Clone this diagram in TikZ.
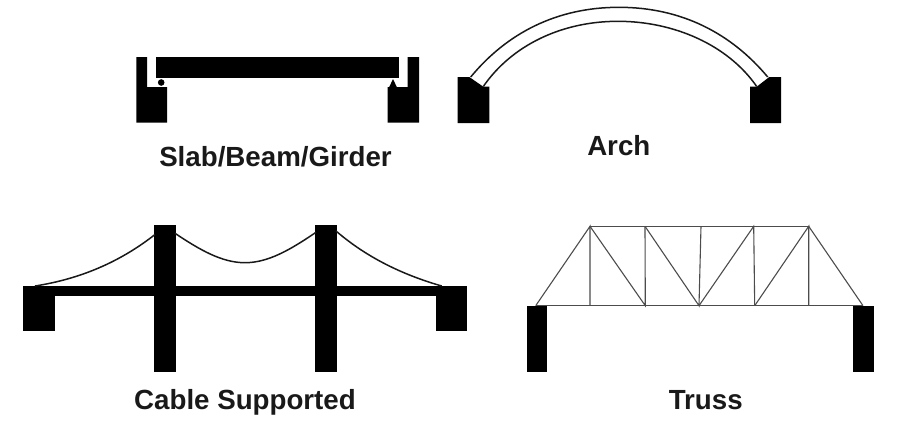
\documentclass[tikz,border=0pt]{standalone}
\usepackage{fontspec}
\setmainfont{Liberation Sans}
\tikzset{
  solid black/.style={fill=black,draw=none},
  arch line/.style={draw=black!90,line width=1.5pt},
  cable/.style={draw=black!90,line width=1.5pt},
  member/.style={draw=black!70,line width=1.1pt},
  caption/.style={font=\bfseries\fontsize{27.7}{32}\selectfont,text=black!90,inner sep=0pt,anchor=base}
}
\begin{document}
\begin{tikzpicture}[x=1pt,y=-1pt]
\useasboundingbox (0,0) rectangle (903,429);
% Slab/Beam/Girder
\fill[solid black] (136.3,57) -- (147,57) -- (147,87) -- (167,87) -- (167,122.7) -- (136.3,122.7) -- cycle;
\fill[solid black] (419,57) -- (407.7,57) -- (407.7,87) -- (387.7,87) -- (387.7,122.7) -- (419,122.7) -- cycle;
\fill[solid black] (155.7,57) rectangle (398.7,77.7);
\fill[solid black] (161.2,82.5) circle (3.3);
\fill[solid black] (393,79) -- (397,87.5) -- (389,87.5) -- cycle;
\node[caption] (slab) at (275.5,166) {Slab/Beam/Girder};
% Arch
\fill[solid black] (457.7,77) -- (469.3,77) -- (483.3,86.7) -- (489.3,86.7) -- (489.3,123) -- (457.7,123) -- cycle;
\fill[solid black] (781,77) -- (769.3,77) -- (756.7,86.7) -- (750,86.7) -- (750,123) -- (781,123) -- cycle;
\draw[arch line] (470.7,77) .. controls (507,33) and (557,7.3) .. (619,7.3) .. controls (681,7.3) and (731,33) .. (767.7,77);
\draw[arch line] (483.3,86.5) .. controls (512,45) and (562,21.3) .. (618,21.3) .. controls (674,21.3) and (728,45) .. (756.7,86.5);
\node[caption] (arch) at (618.8,155) {Arch};
% Cable supported
\fill[solid black] (23.3,285.7) rectangle (54.7,331.3);
\fill[solid black] (436.3,285.7) rectangle (467.3,331.3);
\fill[solid black] (23.3,285.7) rectangle (467.3,296.3);
\fill[solid black] (154,225.3) rectangle (175.7,371.7);
\fill[solid black] (315.3,225.3) rectangle (336.7,371.7);
\draw[cable] (35,286) .. controls (80,279) and (120,262) .. (155,234.5);
\draw[cable] (175,233.3) .. controls (200,250) and (222,262.7) .. (245,262.7) .. controls (268,262.7) and (290,250) .. (316,232.3);
\draw[cable] (336,231) .. controls (365,256) and (400,274) .. (441.7,286);
\node[caption] (cable) at (245,409) {Cable Supported};
% Truss
\fill[solid black] (527.3,305.7) rectangle (547.3,371.7);
\fill[solid black] (853,305.7) rectangle (873.7,371.7);
\coordinate (b0) at (535.7,305.7);
\coordinate (b1) at (590,305.7);
\coordinate (b2) at (645.3,305.7);
\coordinate (b3) at (699,305.7);
\coordinate (b4) at (754.7,305.7);
\coordinate (b5) at (808.7,305.7);
\coordinate (b6) at (863,305.7);
\coordinate (t1) at (590,226.3);
\coordinate (t2) at (645,226.3);
\coordinate (t3) at (701,226.3);
\coordinate (t4) at (753.7,226.3);
\coordinate (t5) at (808.7,226.3);
\draw[member] (b0) -- (b1) -- (b2) -- (b3) -- (b4) -- (b5) -- (b6);
\draw[member] (t1) -- (t2) -- (t3) -- (t4) -- (t5);
\draw[member] (b0) -- (t1) -- (b1);
\draw[member] (t1) -- (b2) -- (t2);
\draw[member] (t2) -- (b3) -- (t3);
\draw[member] (b3) -- (t4) -- (b4);
\draw[member] (b4) -- (t5) -- (b5);
\draw[member] (t5) -- (b6);
\node[caption] (truss) at (705.7,409) {Truss};
\end{tikzpicture}
\end{document}
